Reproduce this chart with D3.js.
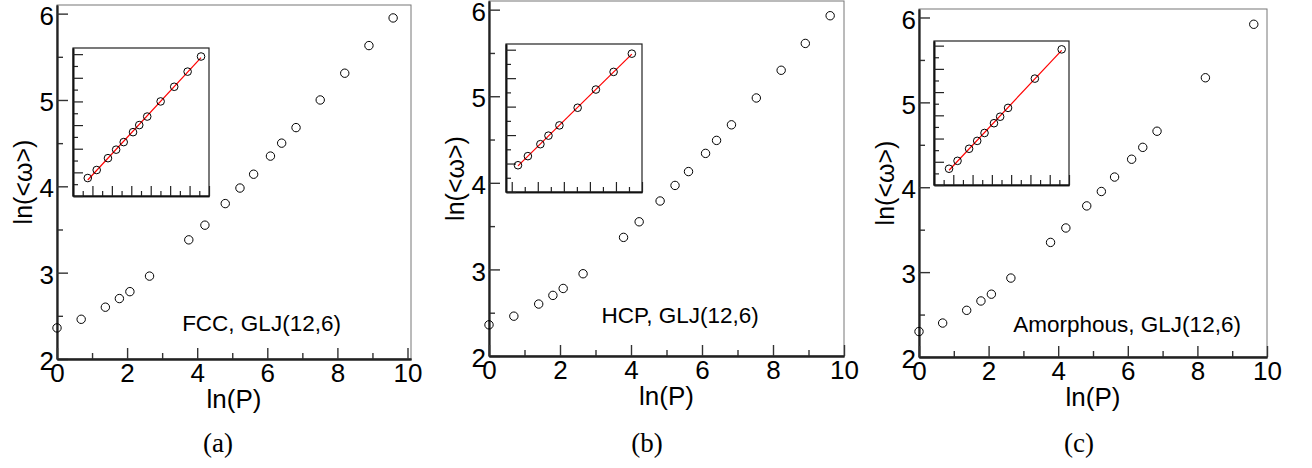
<!DOCTYPE html>
<html>
<head>
<meta charset="utf-8">
<script src="https://cdn.jsdelivr.net/npm/d3@7"></script>
<style>
  body { margin: 0; background: #fff; }
  svg text { font-family: "Liberation Sans", Arial, sans-serif; }
</style>
</head>
<body>
<svg id="fig" width="1312" height="468"></svg>
<script>
// ln(P) / ln(<w>) values
var fccX = [0, 0.69, 1.38, 1.78, 2.08, 2.64, 3.76, 4.22, 4.80, 5.22, 5.61, 6.09, 6.41, 6.82, 7.51, 8.21, 8.90, 9.59];
var fccY = [2.36, 2.46, 2.60, 2.70, 2.78, 2.96, 3.38, 3.55, 3.80, 3.98, 4.14, 4.35, 4.50, 4.68, 5.00, 5.31, 5.63, 5.95];

var hcpX = [0, 0.70, 1.40, 1.80, 2.09, 2.65, 3.79, 4.23, 4.82, 5.24, 5.62, 6.10, 6.41, 6.83, 7.53, 8.23, 8.91, 9.61];
var hcpY = [2.36, 2.46, 2.60, 2.70, 2.78, 2.95, 3.37, 3.55, 3.79, 3.97, 4.13, 4.34, 4.49, 4.67, 4.98, 5.30, 5.61, 5.93];

var amoX = [0, 0.68, 1.37, 1.78, 2.08, 2.64, 3.78, 4.22, 4.82, 5.24, 5.62, 6.11, 6.43, 6.84, 8.23, 9.62];
var amoY = [2.30, 2.40, 2.55, 2.66, 2.74, 2.93, 3.35, 3.52, 3.78, 3.95, 4.12, 4.33, 4.47, 4.66, 5.29, 5.92];

// tick labels of the main axes
var xTickLabels = [0, 2, 4, 6, 8, 10];
var yTickLabels = [2, 3, 4, 5, 6];
var xMinor = [1, 3, 5, 7, 9];
var yMinor = [2.5, 3.5, 4.5, 5.5];

var captions = ["(a)", "(b)", "(c)"];
var notes = ["FCC, GLJ(12,6)", "HCP, GLJ(12,6)", "Amorphous, GLJ(12,6)"];

// layout of every panel (pixels) and the inset ranges
var panels = [
  { x: fccX, y: fccY, from: 6, xMax: 10.1,
    box: { l: 57, t: 5, r: 411, b: 359 },
    inset: { l: 73, t: 48, r: 209, b: 196 }, ix: [3, 10], iy: [3, 6.13],
    note: [3.57, 2.33], capX: 218 },
  { x: hcpX, y: hcpY, from: 9, xMax: 10,
    box: { l: 489, t: 1, r: 844, b: 356 },
    inset: { l: 506, t: 44, r: 642, b: 192 }, ix: [4.78, 10], iy: [3.5, 6.1],
    note: [3.17, 2.38], capX: 647 },
  { x: amoX, y: amoY, from: 6, xMax: 10,
    box: { l: 919, t: 9, r: 1267, b: 357 },
    inset: { l: 934, t: 41, r: 1069, b: 185 }, ix: [3, 10], iy: [3, 6.1],
    note: [2.71, 2.29], capX: 1079 }
];

var svg = d3.select("#fig");

panels.forEach(function(p, k) {
  var g = svg.append("g");
  var x = d3.scaleLinear().domain([0, p.xMax]).range([p.box.l, p.box.r]);
  var y = d3.scaleLinear().domain([2, 6.1]).range([p.box.b, p.box.t]);

  // thin grey frame on top and right
  g.append("rect")
    .attr("x", p.box.l).attr("y", p.box.t)
    .attr("width", p.box.r - p.box.l).attr("height", p.box.b - p.box.t)
    .attr("fill", "none").attr("stroke", "#777").attr("stroke-width", 1);

  // minor ticks first, then major ticks with labels
  g.append("g").attr("transform", "translate(" + p.box.l + ",0)")
    .call(d3.axisLeft(y).tickValues(yMinor).tickSizeInner(-6).tickSizeOuter(0).tickFormat(""))
    .call(styleAxis);
  g.append("g").attr("transform", "translate(0," + p.box.b + ")")
    .call(d3.axisBottom(x).tickValues(xMinor).tickSizeInner(-6).tickSizeOuter(0).tickFormat(""))
    .call(styleAxis);

  var ya = g.append("g").attr("transform", "translate(" + p.box.l + ",0)")
    .call(d3.axisLeft(y).tickValues(yTickLabels).tickSizeInner(-11).tickSizeOuter(0)
      .tickPadding(3).tickFormat(d3.format("d")))
    .call(styleAxis);
  ya.selectAll("text").attr("font-size", 26).attr("fill", "#000").attr("dy", "0.41em");

  var xa = g.append("g").attr("transform", "translate(0," + p.box.b + ")")
    .call(d3.axisBottom(x).tickValues(xTickLabels).tickSizeInner(-11).tickSizeOuter(0)
      .tickPadding(5).tickFormat(d3.format("d")))
    .call(styleAxis);
  xa.selectAll("text").attr("font-size", 26).attr("fill", "#000");

  // axis titles
  g.append("text")
    .attr("transform", "translate(" + (p.box.l - 25) + "," + ((p.box.t + p.box.b) / 2) + ") rotate(-90)")
    .attr("text-anchor", "middle").attr("font-size", 25)
    .text("ln(<ω>)");
  g.append("text")
    .attr("x", (p.box.l + p.box.r) / 2).attr("y", p.box.b + 49)
    .attr("text-anchor", "middle").attr("font-size", 26)
    .text("ln(P)");

  // sub-figure caption
  g.append("text")
    .attr("x", p.capX).attr("y", 452)
    .attr("text-anchor", "middle").attr("font-size", 27)
    .style("font-family", "'Liberation Serif', 'DejaVu Serif', serif")
    .text(captions[k]);

  // structure note
  g.append("text")
    .attr("x", x(p.note[0])).attr("y", y(p.note[1]))
    .attr("font-size", 22.5)
    .text(notes[k]);

  // the points
  var pts = p.x.map(function(v, i) { return [v, p.y[i]]; });
  g.selectAll("circle.main").data(pts).enter().append("circle")
    .attr("cx", function(d) { return x(d[0]); })
    .attr("cy", function(d) { return y(d[1]); })
    .attr("r", 4.2)
    .attr("fill", "none").attr("stroke", "#000").attr("stroke-width", 1);

  drawInset(g, p, pts.slice(p.from));
});

function styleAxis(sel) {
  sel.select(".domain").attr("stroke", "#222").attr("stroke-width", 1.8);
  sel.selectAll(".tick line").attr("stroke", "#333").attr("stroke-width", 1.4);
}

/** Inset: the high pressure points with their straight line fit */
function drawInset(g, p, pts) {
  var b = p.inset;
  var x = d3.scaleLinear().domain(p.ix).range([b.l, b.r]);
  var y = d3.scaleLinear().domain(p.iy).range([b.b, b.t]);

  g.append("rect")
    .attr("x", b.l).attr("y", b.t).attr("width", b.r - b.l).attr("height", b.b - b.t)
    .attr("fill", "#fff").attr("stroke", "#222").attr("stroke-width", 1.2);

  var xt = d3.range(Math.ceil(p.ix[0] * 2) / 2, p.ix[1] + 1e-6, 0.5);
  var yt = d3.range(Math.ceil(p.iy[0] * 4) / 4, p.iy[1] + 1e-6, 0.25);
  var isMajor = function(v, step) { return Math.abs(v / step - Math.round(v / step)) < 1e-6; };

  [[xt.filter(function(v) { return !isMajor(v, 1); }), 5], [xt.filter(function(v) { return isMajor(v, 1); }), 10]]
    .forEach(function(t) {
      g.append("g").attr("transform", "translate(0," + b.b + ")")
        .call(d3.axisBottom(x).tickValues(t[0]).tickSizeInner(-t[1]).tickSizeOuter(0).tickFormat(""))
        .call(styleInset);
    });
  [[yt.filter(function(v) { return !isMajor(v, 0.5); }), 5], [yt.filter(function(v) { return isMajor(v, 0.5); }), 10]]
    .forEach(function(t) {
      g.append("g").attr("transform", "translate(" + b.l + ",0)")
        .call(d3.axisLeft(y).tickValues(t[0]).tickSizeInner(-t[1]).tickSizeOuter(0).tickFormat(""))
        .call(styleInset);
    });

  // least squares fit of the inset points
  var mx = d3.mean(pts, function(d) { return d[0]; });
  var my = d3.mean(pts, function(d) { return d[1]; });
  var sxy = d3.sum(pts, function(d) { return (d[0] - mx) * (d[1] - my); });
  var sxx = d3.sum(pts, function(d) { return (d[0] - mx) * (d[0] - mx); });
  var slope = sxy / sxx, icpt = my - slope * mx;
  var x0 = pts[0][0], x1 = pts[pts.length - 1][0];

  g.append("path")
    .attr("d", d3.line()([[x(x0), y(icpt + slope * x0)], [x(x1), y(icpt + slope * x1)]]))
    .attr("stroke", "#f00").attr("stroke-width", 1.2).attr("fill", "none");

  g.selectAll("circle.inset").data(pts).enter().append("circle")
    .attr("cx", function(d) { return x(d[0]); })
    .attr("cy", function(d) { return y(d[1]); })
    .attr("r", 3.8)
    .attr("fill", "none").attr("stroke", "#000").attr("stroke-width", 1);
}

function styleInset(sel) {
  sel.select(".domain").attr("stroke", "#111").attr("stroke-width", 1.6);
  sel.selectAll(".tick line").attr("stroke", "#222").attr("stroke-width", 1.2);
}
</script>
</body>
</html>
